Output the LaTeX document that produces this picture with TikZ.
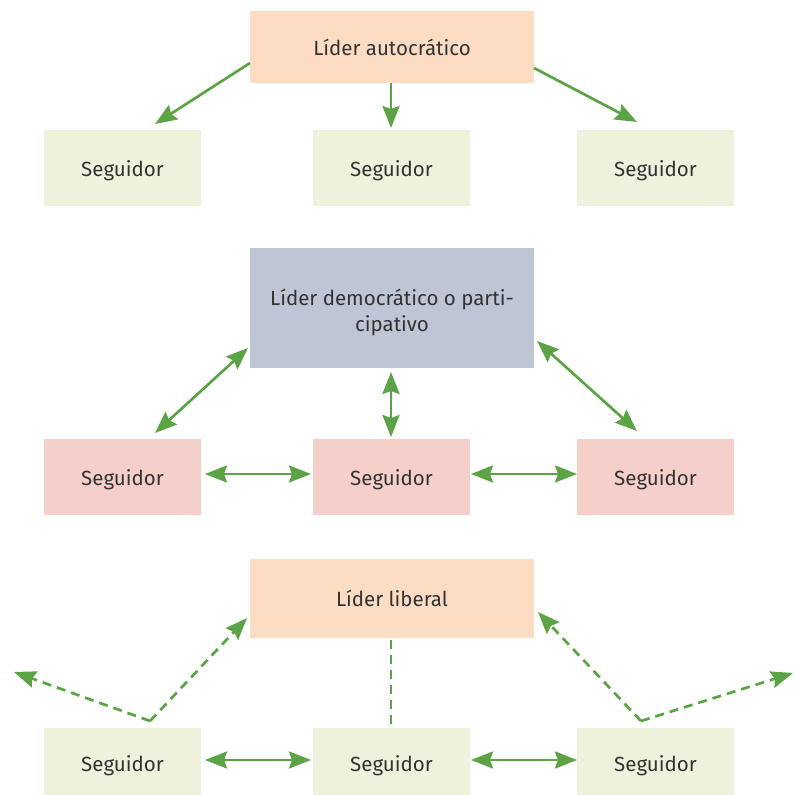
\documentclass[tikz,border=0pt]{standalone}
\usepackage{fontspec}
\setmainfont{Fira Sans}
\usetikzlibrary{arrows.meta}
\definecolor{peach}{HTML}{FDDCC4}
\definecolor{lightgreen}{HTML}{EEF2DC}
\definecolor{slate}{HTML}{BEC5D5}
\definecolor{pink}{HTML}{F5D0CB}
\definecolor{arrowgreen}{HTML}{5BA345}
\definecolor{txt}{HTML}{333333}
\tikzset{
  box/.style={rectangle, inner sep=0pt, text=txt, font=\fontsize{20.5}{26}\selectfont, align=center},
  single/.style={text height=18pt, text depth=2pt},
  conn/.style={draw=arrowgreen, line width=2.7pt, -{Stealth[length=22pt,width=17pt,inset=3pt]}},
  biconn/.style={draw=arrowgreen, line width=2.7pt, {Stealth[length=22pt,width=17pt,inset=3pt]}-{Stealth[length=22pt,width=17pt,inset=3pt]}},
  dconn/.style={draw=arrowgreen, line width=2.7pt, dash pattern=on 9pt off 6pt},
}
\begin{document}
\begin{tikzpicture}[x=1pt,y=-1pt]
\useasboundingbox (0,0) rectangle (793,795);
% row 1
\node[box, single, fill=peach, minimum width=284pt, minimum height=72pt] (A) at (392,47) {Líder autocrático};
\node[box, single, fill=lightgreen, minimum width=157pt, minimum height=76pt] (A1) at (122.5,168) {Seguidor};
\node[box, single, fill=lightgreen, minimum width=157pt, minimum height=76pt] (A2) at (391.5,168) {Seguidor};
\node[box, single, fill=lightgreen, minimum width=157pt, minimum height=76pt] (A3) at (655.5,168) {Seguidor};
\coordinate (a1s) at (250,63); \coordinate (a1e) at (155,124);
\coordinate (a2s) at (391,83); \coordinate (a2e) at (391,128);
\coordinate (a3s) at (534,68); \coordinate (a3e) at (637,122);
\draw[conn] (a1s) -- (a1e);
\draw[conn] (a2s) -- (a2e);
\draw[conn] (a3s) -- (a3e);
% row 2
\node[box, fill=slate, minimum width=284pt, minimum height=120pt] (B) at (392,308) {\raisebox{-10pt}[0pt][0pt]{\begin{tabular}{@{}c@{}}Líder democrático o parti-\\[0pt]cipativo\end{tabular}}};
\node[box, single, fill=pink, minimum width=157pt, minimum height=76pt] (B1) at (122.5,477) {Seguidor};
\node[box, single, fill=pink, minimum width=157pt, minimum height=76pt] (B2) at (391.5,477) {Seguidor};
\node[box, single, fill=pink, minimum width=157pt, minimum height=76pt] (B3) at (655.5,477) {Seguidor};
\coordinate (b1s) at (248,348); \coordinate (b1e) at (155,433);
\coordinate (b2s) at (391,372); \coordinate (b2e) at (391,437);
\coordinate (b3s) at (537,341); \coordinate (b3e) at (637,431);
\coordinate (b4s) at (205,474); \coordinate (b4e) at (311,474);
\coordinate (b5s) at (471,474); \coordinate (b5e) at (577,474);
\draw[biconn] (b1s) -- (b1e);
\draw[biconn] (b2s) -- (b2e);
\draw[biconn] (b3s) -- (b3e);
\draw[biconn] (b4s) -- (b4e);
\draw[biconn] (b5s) -- (b5e);
% row 3
\node[box, single, fill=peach, minimum width=284pt, minimum height=79pt] (C) at (392,598.5) {Líder liberal};
\node[box, single, fill=lightgreen, minimum width=157pt, minimum height=70pt] (C1) at (122.5,763) {Seguidor};
\node[box, single, fill=lightgreen, minimum width=157pt, minimum height=70pt] (C2) at (391.5,763) {Seguidor};
\node[box, single, fill=lightgreen, minimum width=157pt, minimum height=70pt] (C3) at (655.5,763) {Seguidor};
\coordinate (cl) at (150,721); \coordinate (cr) at (641,721);
\coordinate (cl1) at (247,618); \coordinate (cl2) at (14,672);
\coordinate (cr1) at (538,612); \coordinate (cr2) at (793,673);
\coordinate (cm1) at (391,640); \coordinate (cm2) at (391,726);
\draw[conn, dconn] (cl) -- (cl1);
\draw[conn, dconn] (cl) -- (cl2);
\draw[conn, dconn] (cr) -- (cr1);
\draw[conn, dconn] (cr) -- (cr2);
\draw[dconn] (cm1) -- (cm2);
\coordinate (c4s) at (205,760); \coordinate (c4e) at (311,760);
\coordinate (c5s) at (471,760); \coordinate (c5e) at (577,760);
\draw[biconn] (c4s) -- (c4e);
\draw[biconn] (c5s) -- (c5e);
\end{tikzpicture}
\end{document}
